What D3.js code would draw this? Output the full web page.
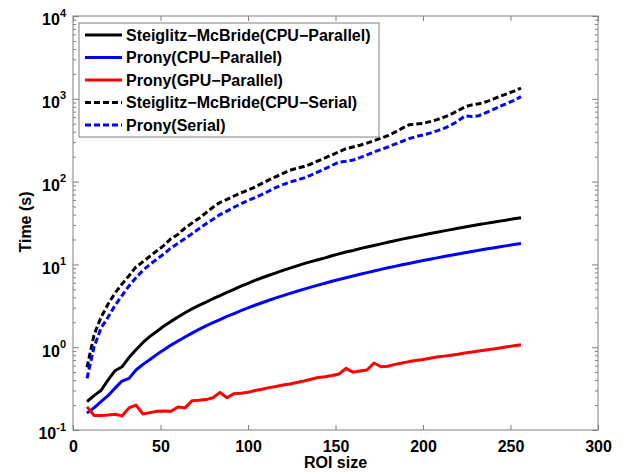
<!DOCTYPE html>
<html>
<head>
<meta charset="utf-8">
<script src="https://cdn.jsdelivr.net/npm/d3@7"></script>
<style>
  body { margin: 0; background: #fff; }
  text { font-family: "Liberation Sans", Arial, sans-serif; font-weight: bold; }
</style>
</head>
<body>
<svg id="vis"></svg>
<script>
const WIDTH = 625;
const HEIGHT = 472;

// ROI sizes (x)
const roiSizes = [8, 12, 16, 20, 24, 28, 32, 36, 40, 44, 48, 52, 56, 60, 64, 68, 72, 76, 80, 84,
  88, 92, 96, 100, 104, 108, 112, 116, 120, 124, 128, 132, 136, 140, 144, 148, 152, 156, 160, 164,
  168, 172, 176, 180, 184, 188, 192, 196, 200, 204, 208, 212, 216, 220, 224, 228, 232, 236, 240, 244,
  248, 252, 256];

// tiempos en segundos
const smbParallel = [0.22, 0.26, 0.30, 0.40, 0.52, 0.58, 0.75, 0.93, 1.14, 1.35, 1.56, 1.80, 2.05, 2.32, 2.61, 2.9, 3.2, 3.5, 3.85, 4.2,
  4.6, 5.0, 5.45, 5.9, 6.4, 6.9, 7.4, 7.9, 8.45, 9.0, 9.6, 10.2, 10.8, 11.4, 12.0, 12.7, 13.4, 14.1, 14.7, 15.5,
  16.2, 16.9, 17.7, 18.5, 19.3, 20.2, 21.0, 21.8, 22.7, 23.6, 24.5, 25.4, 26.3, 27.3, 28.3, 29.3, 30.3, 31.3, 32.3, 33.3,
  34.4, 35.5, 36.6];
const pronyParallel = [0.16, 0.185, 0.22, 0.26, 0.32, 0.39, 0.42, 0.53, 0.62, 0.71, 0.82, 0.93, 1.06, 1.19, 1.33, 1.48, 1.64, 1.81, 1.98, 2.16,
  2.36, 2.55, 2.76, 2.98, 3.21, 3.44, 3.69, 3.94, 4.19, 4.46, 4.74, 5.03, 5.31, 5.62, 5.93, 6.25, 6.58, 6.91, 7.25, 7.60,
  7.95, 8.32, 8.71, 9.09, 9.47, 9.89, 10.28, 10.71, 11.13, 11.57, 11.99, 12.44, 12.90, 13.38, 13.85, 14.33, 14.83, 15.31, 15.80, 16.32,
  16.85, 17.39, 17.92];
const pronyGpu = [0.19, 0.15, 0.15, 0.152, 0.155, 0.148, 0.185, 0.20, 0.156, 0.162, 0.168, 0.17, 0.168, 0.19, 0.185, 0.225, 0.228, 0.233, 0.245, 0.285,
  0.245, 0.275, 0.278, 0.285, 0.30, 0.31, 0.325, 0.335, 0.35, 0.36, 0.375, 0.39, 0.41, 0.43, 0.44, 0.455, 0.475, 0.555, 0.50, 0.515,
  0.53, 0.645, 0.58, 0.59, 0.62, 0.645, 0.67, 0.69, 0.71, 0.735, 0.76, 0.78, 0.80, 0.82, 0.85, 0.875, 0.90, 0.925, 0.95, 0.98,
  1.01, 1.04, 1.07];
const smbSerial = [0.57, 1.4, 2.3, 3.3, 4.5, 5.8, 7.3, 9.3, 10.8, 12.6, 14.6, 17.0, 20.5, 23.0, 27.5, 31.5, 36, 42, 49, 56,
  61, 67, 73, 79, 86, 95, 105, 115, 126, 137, 145, 152, 163, 178, 193, 210, 230, 250, 262, 275,
  292, 312, 335, 360, 395, 440, 485, 495, 505, 530, 560, 600, 650, 720, 800, 845, 870, 920, 990, 1070,
  1150, 1240, 1350];
const pronySerial = [0.42, 1.0, 1.7, 2.3, 3.2, 4.2, 5.5, 6.9, 8.5, 10.0, 11.6, 13.4, 15.8, 18.0, 20.5, 23.5, 27, 31, 35, 40,
  44, 49, 54, 59, 64, 70, 77, 85, 92, 99, 104, 111, 120, 131, 143, 157, 172, 176, 182, 195,
  210, 228, 245, 262, 283, 305, 330, 350, 365, 385, 410, 440, 480, 540, 620, 610, 625, 680, 740, 810,
  880, 960, 1060];

const seriesNames = [
  "Steiglitz\u2212McBride(CPU\u2212Parallel)",
  "Prony(CPU\u2212Parallel)",
  "Prony(GPU\u2212Parallel)",
  "Steiglitz\u2212McBride(CPU\u2212Serial)",
  "Prony(Serial)",
];
const seriesValues = [smbParallel, pronyParallel, pronyGpu, smbSerial, pronySerial];
const COLORS = ["#000000", "#0000ff", "#ff0000", "#000000", "#0000ff"];
const DASHED = [false, false, false, true, true];

const xTicks = [0, 50, 100, 150, 200, 250, 300];
const yExponents = [-1, 0, 1, 2, 3, 4];

const MARGIN = { top: 16, bottom: 42, left: 73, right: 27 };
const WIDTHVIS = WIDTH - MARGIN.left - MARGIN.right;
const HEIGHTVIS = HEIGHT - MARGIN.top - MARGIN.bottom;
const AXISCOLOR = "#808080";
const FONT = "16px";

const svg = d3.select("#vis").attr("width", WIDTH).attr("height", HEIGHT);
const contenedor = svg.append("g").attr("transform", `translate(${MARGIN.left} ${MARGIN.top})`);

const escalaX = d3.scaleLinear().domain([0, 300]).range([0, WIDTHVIS]);
const escalaY = d3.scaleLog().domain([0.1, 10000]).range([HEIGHTVIS, 0]);

// ticks menores log
const minores = [];
yExponents.slice(0, -1).forEach((e) => {
  for (let k = 2; k <= 9; k++) minores.push(k * Math.pow(10, e));
});
const mayores = yExponents.map((e) => Math.pow(10, e));

// marco
contenedor.append("rect")
  .attr("width", WIDTHVIS).attr("height", HEIGHTVIS)
  .attr("fill", "none").attr("stroke", AXISCOLOR).attr("stroke-width", 1);

function estilo(g) {
  g.select(".domain").remove();
  g.selectAll("line").attr("stroke", AXISCOLOR);
  g.selectAll("text").attr("fill", "#000").attr("font-size", FONT);
}

// eje X abajo y arriba
contenedor.append("g").attr("transform", `translate(0, ${HEIGHTVIS})`)
  .call(d3.axisBottom(escalaX).tickValues(xTicks).tickSize(-5).tickPadding(11).tickFormat(d3.format("d")))
  .call(estilo);
contenedor.append("g")
  .call(d3.axisTop(escalaX).tickValues(xTicks).tickSize(-5).tickFormat(""))
  .call(estilo);

// eje Y izquierda
const ejeY = contenedor.append("g")
  .call(d3.axisLeft(escalaY).tickValues(mayores).tickSize(-6).tickPadding(7).tickFormat(() => ""))
  .call(estilo);
ejeY.selectAll(".tick text")
  .attr("dy", "0.55em")
  .each(function (d) {
    const t = d3.select(this);
    t.append("tspan").text("10");
    t.append("tspan").attr("font-size", "11px").attr("dy", "-0.8em").text(Math.round(Math.log10(d)));
  });
contenedor.append("g")
  .call(d3.axisLeft(escalaY).tickValues(minores).tickSize(-3).tickFormat(""))
  .call(estilo);

// eje Y derecha
contenedor.append("g").attr("transform", `translate(${WIDTHVIS}, 0)`)
  .call(d3.axisRight(escalaY).tickValues(mayores).tickSize(-6).tickFormat(""))
  .call(estilo);
contenedor.append("g").attr("transform", `translate(${WIDTHVIS}, 0)`)
  .call(d3.axisRight(escalaY).tickValues(minores).tickSize(-3).tickFormat(""))
  .call(estilo);

// lineas
const linea = d3.line()
  .x((d) => escalaX(d[0]))
  .y((d) => escalaY(d[1]));

seriesValues.forEach((vals, i) => {
  contenedor.append("path")
    .datum(roiSizes.map((x, j) => [x, vals[j]]))
    .attr("d", linea)
    .attr("fill", "none")
    .attr("stroke", COLORS[i])
    .attr("stroke-width", 3)
    .attr("stroke-linejoin", "round")
    .attr("stroke-dasharray", DASHED[i] ? "6 3" : null);
});

// textos de ejes
svg.append("text")
  .attr("x", MARGIN.left + WIDTHVIS / 2)
  .attr("y", 468)
  .attr("text-anchor", "middle")
  .attr("font-size", FONT)
  .text("ROI size");

svg.append("text")
  .attr("transform", `translate(31, ${MARGIN.top + HEIGHTVIS / 2 - 1}) rotate(-90)`)
  .attr("text-anchor", "middle")
  .attr("font-size", FONT)
  .text("Time (s)");

// leyenda
const leyenda = svg.append("g").attr("id", "leyenda");
leyenda.append("rect")
  .attr("x", 79).attr("y", 23).attr("width", 300).attr("height", 114)
  .attr("fill", "#fff").attr("stroke", AXISCOLOR).attr("stroke-width", 1);

leyenda.selectAll("line")
  .data(seriesNames)
  .join("line")
  .attr("x1", 85).attr("x2", 122)
  .attr("y1", (_, i) => 35 + i * 22.5)
  .attr("y2", (_, i) => 35 + i * 22.5)
  .attr("stroke", (_, i) => COLORS[i])
  .attr("stroke-width", 3)
  .attr("stroke-dasharray", (_, i) => (DASHED[i] ? "6 3" : null));

leyenda.selectAll("text")
  .data(seriesNames)
  .join("text")
  .attr("x", 126)
  .attr("y", (_, i) => 35 + i * 22.5)
  .attr("dy", "0.35em")
  .attr("font-size", FONT)
  .text((d) => d);
</script>
</body>
</html>
